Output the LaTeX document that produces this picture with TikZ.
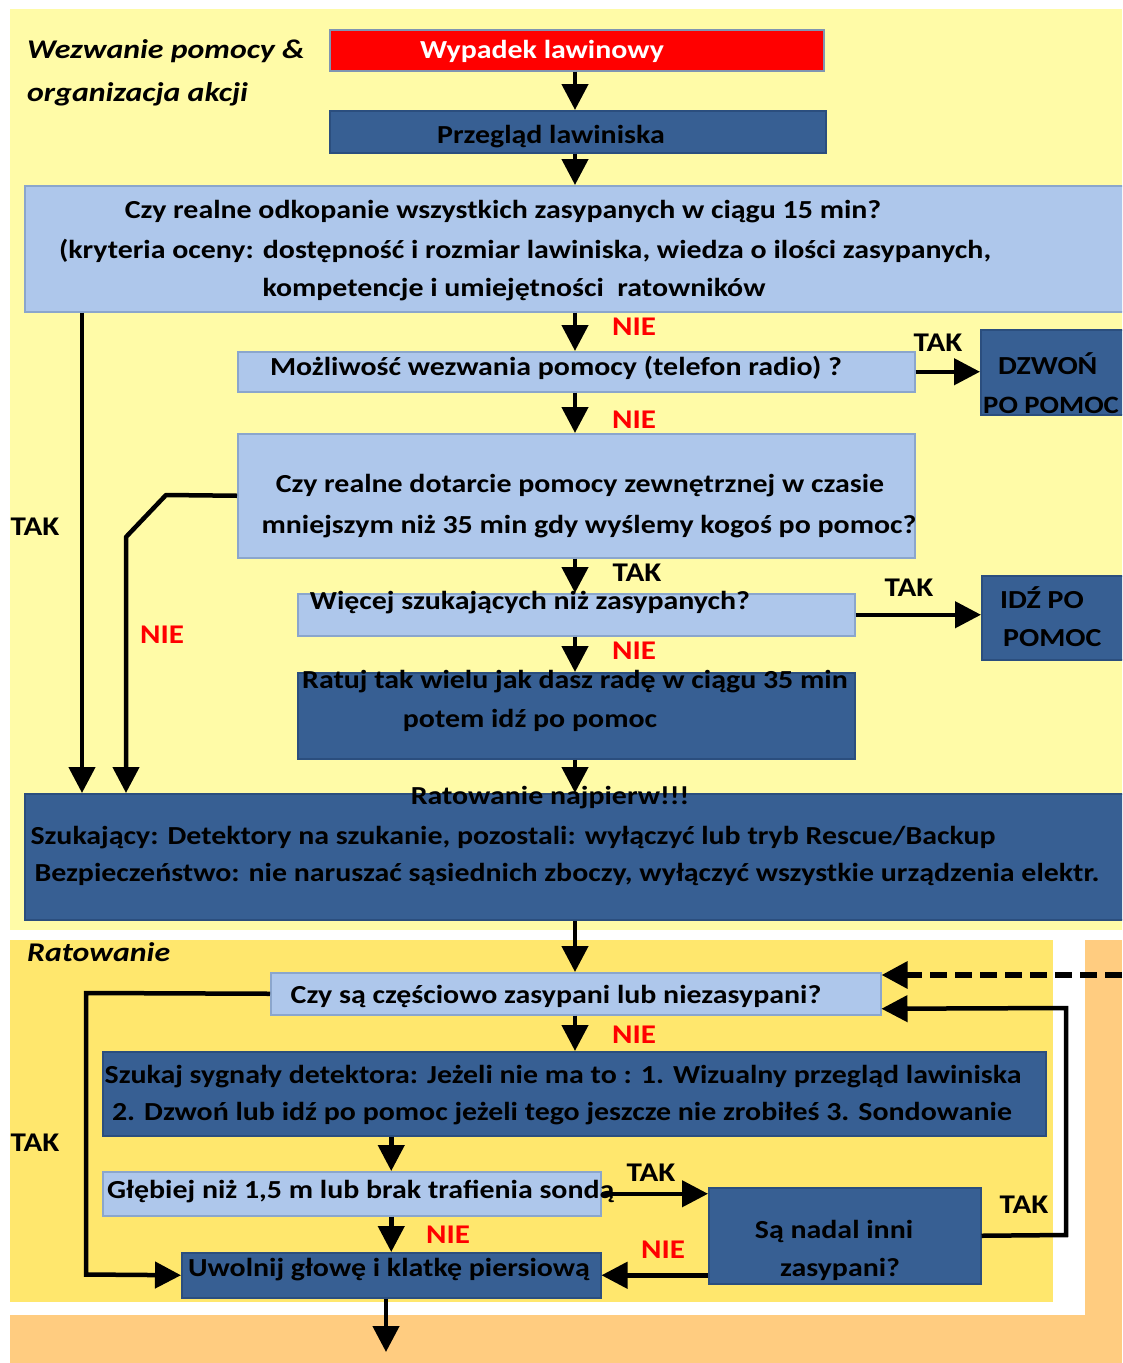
\documentclass[tikz,border=0pt]{standalone}
\usepackage{fontspec}
\setmainfont{Carlito}[FakeStretch=1.15]
\newfontfamily\sectfont{Carlito}[FakeStretch=1.18]
\usetikzlibrary{arrows.meta,calc}

\definecolor{paleyellow}{HTML}{FFFBA7}
\definecolor{sunyellow}{HTML}{FFE76D}
\definecolor{peach}{HTML}{FFCC80}
\definecolor{lightblue}{HTML}{AEC7EB}
\definecolor{lightblueedge}{HTML}{8BA6CC}
\definecolor{darkblue}{HTML}{375F93}
\definecolor{darkblueedge}{HTML}{2B4E7E}
\definecolor{alarmred}{HTML}{FF0000}

\tikzset{
  box/.style={rectangle, anchor=north west, inner sep=0pt, line width=1.5pt},
  qbox/.style={box, fill=lightblue, draw=lightblueedge},
  abox/.style={box, fill=darkblue, draw=darkblueedge},
  txt/.style={inner sep=0pt, text height=17pt, text depth=5pt,
    font=\fontsize{26}{30}\selectfont\bfseries},
  ltxt/.style={txt, anchor=west},
  sect/.style={inner sep=0pt, anchor=west, text height=17pt, text depth=5pt,
    font=\sectfont\fontsize{27}{30}\selectfont\bfseries\itshape},
  yes/.style={inner sep=0pt, text height=17pt, text depth=0pt,
    font=\fontsize{27}{30}\selectfont\bfseries},
  no/.style={yes, text=alarmred},
  flow/.style={line width=4.5pt, -{Triangle[width=26pt,length=26pt]}},
}

\begin{document}
\begin{tikzpicture}[x=1pt,y=-1pt]
\clip (0,0) rectangle (1122,1363);
\fill[white] (0,0) rectangle (1122,1363);

% section backgrounds
\fill[paleyellow] (10,9) rectangle (1122,930);
\fill[sunyellow] (10,940) rectangle (1053,1302);
\fill[peach] (1085,940) rectangle (1122,1363);
\fill[peach] (10,1315) rectangle (1122,1363);

% vertical spine of the main flow and the two side rails
\coordinate (mid) at (575,0);
\coordinate (railA) at (82,0);
\coordinate (railB) at (126,0);

% ---- boxes ----
\node[box, fill=alarmred, draw=darkblueedge!60, minimum width=494pt, minimum height=41pt] (alarm) at (329,29) {};
\node[abox, minimum width=496pt, minimum height=42pt] (survey) at (329,110) {};
\node[qbox, minimum width=1100pt, minimum height=126pt] (q1) at (24,185) {};
\node[qbox, minimum width=677pt, minimum height=40pt] (q2) at (237,351) {};
\node[abox, minimum width=150pt, minimum height=85pt] (call) at (980,329) {};
\node[qbox, minimum width=677pt, minimum height=124pt] (q3) at (237,433) {};
\node[qbox, minimum width=557pt, minimum height=42pt] (q4) at (297,593) {};
\node[abox, minimum width=150pt, minimum height=84pt] (go) at (981,575) {};
\node[abox, minimum width=557pt, minimum height=86pt] (save) at (297,672) {};
\node[abox, minimum width=1100pt, minimum height=126pt] (act) at (24,793) {};
\node[qbox, minimum width=610pt, minimum height=42pt] (q5) at (270,972) {};
\node[abox, minimum width=943pt, minimum height=84pt] (search) at (102,1051) {};
\node[qbox, minimum width=498pt, minimum height=44pt] (q6) at (102,1171) {};
\node[abox, minimum width=272pt, minimum height=96pt] (more) at (708,1187) {};
\node[abox, minimum width=419pt, minimum height=45pt] (free) at (181,1252) {};

% ---- texts ----
\node[sect] (s1a) at (27,52) {Wezwanie pomocy \&};
\node[sect] (s1b) at (27,95) {organizacja akcji};
\node[sect] (s2) at (27,955) {Ratowanie};

\node[txt, text=white] (t0) at (542,52) {Wypadek lawinowy};
\node[txt] (t1) at (551,137) {Przegląd lawiniska};
\node[txt] (t2a) at (503,212) {Czy realne odkopanie wszystkich zasypanych w ciągu 15 min?};
\node[txt] (t2b) at (525,252) {(kryteria oceny: dostępność i rozmiar lawiniska, wiedza o ilości zasypanych,};
\node[txt] (t2c) at (514,290) {kompetencje i umiejętności\ \ ratowników};
\node[txt] (t3) at (556,369) {Możliwość wezwania pomocy (telefon radio) ?};
\node[ltxt] (t4a) at (998,368) {DZWOŃ};
\node[ltxt, font=\fontsize{25}{30}\selectfont\bfseries] (t4b) at (983,407) {PO POMOC};
\node[txt] (t5a) at (580,486) {Czy realne dotarcie pomocy zewnętrznej w czasie};
\node[txt] (t5b) at (589,527) {mniejszym niż 35 min gdy wyślemy kogoś po pomoc?};
\node[txt] (t6) at (530,603) {Więcej szukających niż zasypanych?};
\node[ltxt] (t7a) at (1000,602) {IDŹ PO};
\node[ltxt] (t7b) at (1003,640) {POMOC};
\node[txt] (t8a) at (575,682) {Ratuj tak wielu jak dasz radę w ciągu 35 min};
\node[txt] (t8b) at (530,721) {potem idź po pomoc};
\node[txt] (t9a) at (550,798) {Ratowanie najpierw!!!};
\node[txt] (t9b) at (513,838) {Szukający: Detektory na szukanie, pozostali: wyłączyć lub tryb Rescue/Backup};
\node[txt] (t9c) at (567,875) {Bezpieczeństwo: nie naruszać sąsiednich zboczy, wyłączyć wszystkie urządzenia elektr.};
\node[txt] (t10) at (556,997) {Czy są częściowo zasypani lub niezasypani?};
\node[txt] (t11a) at (563,1077) {Szukaj sygnały detektora: Jeżeli nie ma to : 1. Wizualny przegląd lawiniska};
\node[txt] (t11b) at (562,1114) {2. Dzwoń lub idź po pomoc jeżeli tego jeszcze nie zrobiłeś 3. Sondowanie};
\node[ltxt] (t12) at (107,1192) {Głębiej niż 1,5 m lub brak trafienia sondą};
\node[txt] (t13a) at (834,1232) {Są nadal inni};
\node[txt] (t13b) at (840,1270) {zasypani?};
\node[txt] (t14) at (389,1270) {Uwolnij głowę i klatkę piersiową};

% ---- connectors, upper part ----
\draw[flow] (alarm.south -| mid) -- (survey.north -| mid);
\draw[flow] (survey.south -| mid) -- (q1.north -| mid);
\draw[flow] (q1.south -| mid) -- (q2.north -| mid);
\draw[flow] (q2.east) -- (call.west |- q2.east);
\draw[flow] (q2.south -| mid) -- (q3.north -| mid);
\draw[flow] (q3.south -| mid) -- (q4.north -| mid);
\draw[flow] (q4.east) -- (go.west |- q4.east);
\draw[flow] (q4.south -| mid) -- (save.north -| mid);
\draw[flow] (save.south -| mid) -- (act.north -| mid);
\draw[flow] (q1.south -| railA) -- (act.north -| railA);
\draw[flow, line join=round] (q3.west) -- (166,495) -- (126,537) -- (act.north -| railB);

% ---- connectors, rescue part ----
\coordinate (ext) at (1122,975);
\coordinate (loopin) at ($(q5.east)+(0,15)$);
\coordinate (exitpt) at (386,1352);
\draw[flow] (act.south -| mid) -- (q5.north -| mid);
\draw[flow, dash pattern=on 17pt off 8pt, line width=6pt] (ext) -- (q5.east |- ext);
\draw[flow] (more.east) -- (1066,1235) -- (1066,1008) -- (loopin);
\draw[flow] (q5.west) -- (86,993) -- (86,1274.5) -- (free.west);
\draw[flow] (q5.south -| mid) -- (search.north -| mid);
\draw[flow] (search.south -| free.north) -- (q6.north -| free.north);
\draw[flow] (q6.south -| free.north) -- (free.north);
\draw[flow] (q6.east) -- (more.west |- q6.east);
\draw[flow] (more.west |- free.east) -- (free.east);
\draw[flow] (free.south -| exitpt) -- (exitpt);

% ---- branch labels ----
\node[no] (n1) at (634,327) {NIE};
\node[yes] (y1) at (938,343) {TAK};
\node[no] (n2) at (634,420) {NIE};
\node[yes] (y2) at (35,527) {TAK};
\node[yes] (y3) at (637,573) {TAK};
\node[yes] (y4) at (909,588) {TAK};
\node[no] (n3) at (162,635) {NIE};
\node[no] (n4) at (634,651) {NIE};
\node[no] (n5) at (634,1035) {NIE};
\node[yes] (y5) at (35,1143) {TAK};
\node[yes] (y6) at (651,1173) {TAK};
\node[yes] (y7) at (1024,1205) {TAK};
\node[no] (n6) at (448,1235) {NIE};
\node[no] (n7) at (663,1250) {NIE};
\end{tikzpicture}
\end{document}
